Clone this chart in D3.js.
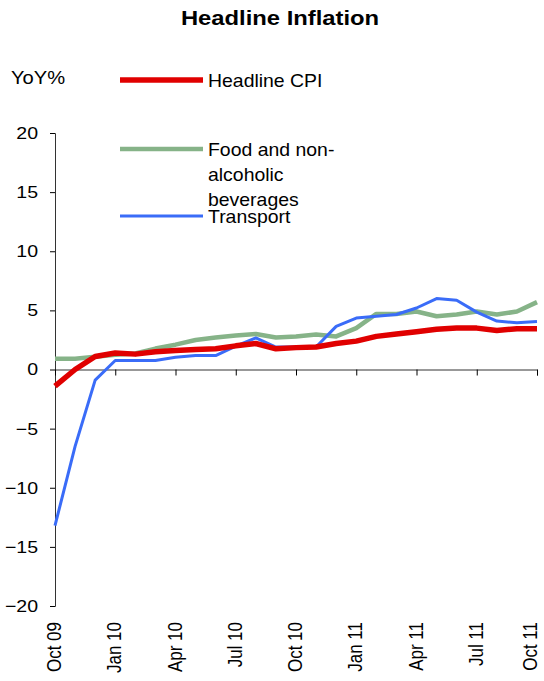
<!DOCTYPE html>
<html>
<head>
<meta charset="utf-8">
<script src="https://cdn.jsdelivr.net/npm/d3@7"></script>
<style>
body { margin: 0; background: #fff; }
text { font-family: "Liberation Sans", Arial, sans-serif; }
</style>
</head>
<body>
<div id="chart-area"></div>
<script>
// months Oct 09 .. Oct 11
var months = ["Oct 09","Nov 09","Dec 09","Jan 10","Feb 10","Mar 10","Apr 10","May 10","Jun 10",
    "Jul 10","Aug 10","Sep 10","Oct 10","Nov 10","Dec 10","Jan 11","Feb 11","Mar 11","Apr 11",
    "May 11","Jun 11","Jul 11","Aug 11","Sep 11","Oct 11"]
var tickLabels = ["Oct 09","Jan 10","Apr 10","Jul 10","Oct 10","Jan 11","Apr 11","Jul 11","Oct 11"]
var yTicks = [-20,-15,-10,-5,0,5,10,15,20]

var headline = [-1.4,0.0,1.1,1.4,1.3,1.5,1.6,1.7,1.75,2.0,2.2,1.75,1.85,1.9,2.2,2.4,2.8,3.0,3.2,3.4,3.5,3.5,3.3,3.45,3.45]
var food = [0.9,0.9,1.07,1.24,1.35,1.77,2.1,2.5,2.7,2.87,3.0,2.7,2.8,2.95,2.8,3.5,4.7,4.7,4.9,4.5,4.65,4.9,4.65,4.9,5.7]
var transport = [-13.2,-6.5,-0.9,0.76,0.76,0.76,1.04,1.18,1.18,1.97,2.67,1.9,1.9,1.9,3.65,4.35,4.5,4.65,5.2,6.0,5.85,4.85,4.1,3.95,4.05]

var series = [
    {name: ["Food and non-","alcoholic","beverages"], values: food, color: "#86b388", width: 4.5, ly: 149},
    {name: ["Transport"], values: transport, color: "#3a6cf8", width: 3, ly: 216},
    {name: ["Headline CPI"], values: headline, color: "#e00000", width: 5.5, ly: 80}
]

var sx = 1.15 // the reference text is a bit wide

var cw = 544, ch = 681
var m = {l: 55, t: 133, r: 7, b: 75}
var w = cw - m.l - m.r
var h = ch - m.t - m.b

var svg = d3.select("#chart-area").append("svg")
    .attr("width", cw)
    .attr("height", ch)

svg.append("text")
    .attr("transform", "translate(280, 25) scale(1.19, 1)")
    .attr("text-anchor", "middle")
    .attr("font-size", "20px")
    .attr("font-weight", "bold")
    .text("Headline Inflation")

svg.append("text")
    .attr("transform", "translate(11, 84) scale(1.12, 1)")
    .attr("font-size", "18px")
    .text("YoY%")

var g = svg.append("g").attr("transform", "translate(" + m.l + ", " + m.t + ")")

var x = d3.scalePoint()
    .domain(months)
    .range([0, w])

var y = d3.scaleLinear()
    .domain([-20, 20])
    .range([h, 0])

var leftAxis = d3.axisLeft(y)
    .tickValues(yTicks)
    .tickSize(5)
    .tickPadding(12)

var yAxisGroup = g.append("g").call(leftAxis)
yAxisGroup.selectAll("text")
    .attr("font-size", "17px")
    .attr("fill", "#000")
    .attr("transform", "scale(" + sx + ", 1)")
    .attr("x", -17 / sx)
yAxisGroup.select(".domain").attr("stroke", "#333")

var bottomAxis = d3.axisBottom(x)
    .tickValues(tickLabels)
    .tickSize(6)
    .tickFormat("")

g.append("g")
    .attr("transform", "translate(0, " + y(0) + ")")
    .call(bottomAxis)
    .call(a => a.select(".domain").attr("stroke", "#333"))

g.selectAll(".xlab")
    .data(tickLabels)
    .enter().append("text")
    .attr("class", "xlab")
    .attr("font-size", "17px")
    .attr("text-anchor", "end")
    .attr("transform", d => "translate(" + Math.min(x(d) + 6, w + 0) + ", " + (h + 16) + ") rotate(-90) scale(1, " + sx + ")")
    .text(d => d)

var line = d3.line()
    .x((d, i) => x(months[i]))
    .y(d => y(d))

g.selectAll(".series")
    .data(series)
    .enter().append("path")
    .attr("class", "series")
    .attr("fill", "none")
    .attr("stroke", d => d.color)
    .attr("stroke-width", d => d.width)
    .attr("stroke-linejoin", "round")
    .attr("d", d => line(d.values))

// legend
var leg = svg.selectAll(".leg")
    .data(series)
    .enter().append("g")
    .attr("class", "leg")

leg.append("line")
    .attr("x1", 120).attr("x2", 203)
    .attr("y1", d => d.ly).attr("y2", d => d.ly)
    .attr("stroke", d => d.color)
    .attr("stroke-width", d => d.width)

leg.append("g")
    .attr("transform", "translate(208, 0) scale(1.08, 1)")
    .append("text")
    .attr("font-size", "18px")
    .selectAll("tspan")
    .data(d => d.name.map((t, i) => ({t: t, y: d.ly + 7 + i * 25})))
    .enter().append("tspan")
    .attr("x", 0)
    .attr("y", d => d.y)
    .text(d => d.t)
</script>
</body>
</html>
